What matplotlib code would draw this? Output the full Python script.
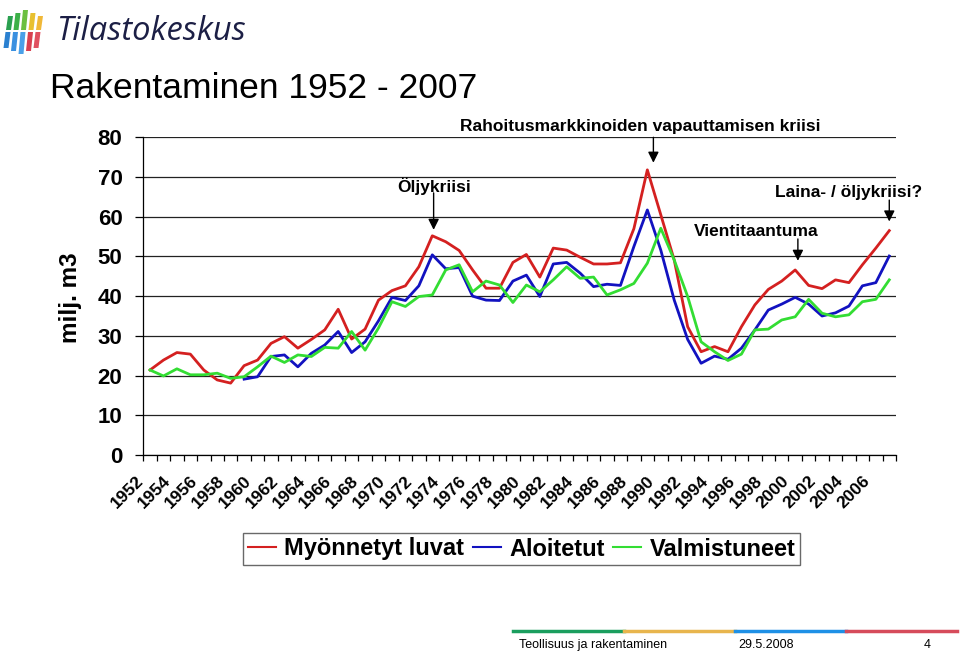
import matplotlib
matplotlib.use("Agg")
import matplotlib.pyplot as plt
import matplotlib.transforms as mtransforms
from matplotlib.patches import Polygon
import numpy as np

plt.rcParams['font.family'] = ['Liberation Sans', 'DejaVu Sans']

# data (milj. m3)
years = list(range(1952, 2008))
luvat = [21.4, 23.9, 25.8, 25.4, 21.4, 18.9, 18.1, 22.5, 23.9, 28.1,
         29.8, 26.9, 29.1, 31.5, 36.7, 29.2, 31.7, 39.0, 41.4, 42.6,
         47.4, 55.2, 53.7, 51.5, 46.6, 42.0, 42.0, 48.5, 50.5, 44.8,
         52.1, 51.6, 49.8, 48.1, 48.1, 48.4, 57.0, 71.8, 60.5, 49.1,
         32.3, 26.0, 27.3, 26.0, 32.3, 37.8, 41.7, 43.8, 46.6, 42.7,
         41.9, 44.1, 43.4, 47.9, 52.1, 56.5]
aloitetut_years = list(range(1959, 2008))
aloitetut = [19.1, 19.7, 24.8, 25.2, 22.2, 25.6, 27.7, 31.1, 25.8, 28.5,
             33.8, 39.7, 38.9, 42.6, 50.4, 46.9, 47.2, 40.0, 39.0, 38.9,
             43.8, 45.3, 39.9, 48.1, 48.5, 45.8, 42.4, 43.0, 42.7, 52.5,
             61.7, 51.6, 39.0, 29.1, 23.1, 24.9, 24.1, 26.9, 31.5, 36.5,
             38.0, 39.7, 38.0, 35.0, 35.8, 37.5, 42.6, 43.4, 50.1]
valmistuneet = [21.4, 19.9, 21.7, 20.2, 20.2, 20.6, 19.3, 19.7, 22.2, 24.9,
                23.3, 25.2, 24.8, 27.1, 26.9, 31.1, 26.4, 32.0, 38.6, 37.4,
                39.9, 40.3, 46.6, 47.9, 41.1, 43.8, 42.8, 38.4, 42.8, 41.1,
                44.1, 47.4, 44.5, 44.8, 40.3, 41.6, 43.2, 48.3, 57.1, 49.1,
                39.9, 28.5, 26.0, 23.8, 25.4, 31.5, 31.7, 34.0, 34.8, 39.2,
                35.7, 34.8, 35.3, 38.6, 39.2, 44.1]

series_names = ['Myönnetyt luvat', 'Aloitetut', 'Valmistuneet']
colors = ['#d42020', '#1212c0', '#33dd33']

fig = plt.figure(figsize=(9.6, 6.52), dpi=100)
ax = fig.add_axes([143.3 / 960, 1 - 455 / 652, (896 - 143.3) / 960, (455 - 137.3) / 652])

ax.plot(years, luvat, color=colors[0], lw=2.0, label=series_names[0])
ax.plot(aloitetut_years, aloitetut, color=colors[1], lw=2.0, label=series_names[1])
ax.plot(years, valmistuneet, color=colors[2], lw=2.0, label=series_names[2])

ax.set_xlim(1951.5, 2007.5)
ax.set_ylim(0, 80)
ax.set_yticks(range(0, 81, 10))
ax.yaxis.grid(True, color='#222222', lw=0.9)
ax.set_axisbelow(True)
for s in ['top', 'right']:
    ax.spines[s].set_visible(False)
ax.spines['left'].set_linewidth(0.9)
ax.spines['bottom'].set_linewidth(0.9)
ax.tick_params(axis='y', length=6, width=0.9, pad=9, labelsize=16)
for lab in ax.get_yticklabels():
    lab.set_fontweight('bold')

ax.set_xticks(years[::2])
ax.set_xticklabels([str(y) for y in years[::2]], rotation=45, ha='right', va='top',
                   rotation_mode='anchor', fontsize=12.5, fontweight='bold')
ax.set_xticks(np.arange(1951.5, 2008, 1), minor=True)
ax.tick_params(axis='x', which='major', length=0, pad=10)
ax.tick_params(axis='x', which='minor', length=4.5, width=0.9)
off = mtransforms.ScaledTranslation(-14 / 100, -4 / 100, fig.dpi_scale_trans)
for lab in ax.get_xticklabels():
    lab.set_transform(lab.get_transform() + off)

# annotations
arrow = dict(arrowstyle='-|>', color='black', lw=1, mutation_scale=16, shrinkA=0, shrinkB=0)
notes = [
    ('Rahoitusmarkkinoiden vapauttamisen kriisi', 1988.5, 82.6, 1989.45, 80.0, 73.6),
    ('Öljykriisi', 1973.1, 67.8, 1973.1, 66.0, 56.7),
    ('Vientitaantuma', 1997.1, 56.4, 2000.2, 54.4, 48.9),
    ('Laina- / öljykriisi?', 2004.0, 66.0, 2007.0, 64.2, 58.8),
]
for txt, tx, ty, ax_x, y0, y1 in notes:
    ax.text(tx, ty, txt, ha='center', va='center', fontsize=12.5, fontweight='bold', clip_on=False)
    ax.annotate('', xy=(ax_x, y1), xytext=(ax_x, y0), arrowprops=arrow, annotation_clip=False)

# y label and title
fig.text(70 / 960, 1 - 298 / 652, 'milj. m3', rotation=90, ha='center', va='center',
         fontsize=17.5, fontweight='bold')
fig.text(50 / 960, 1 - 89 / 652, 'Rakentaminen 1952 - 2007', ha='left', va='center', fontsize=25.5)

# legend
leg = fig.legend(loc='center', bbox_to_anchor=(521.5 / 960, 1 - 549 / 652), ncol=3,
                 prop={'size': 17, 'weight': 'bold'}, frameon=True, fancybox=False,
                 handlelength=1.2, handletextpad=0.35, columnspacing=0.35, borderpad=0.2,
                 borderaxespad=0, edgecolor='#444444')
leg.get_frame().set_linewidth(1.0)
for h in leg.get_lines():
    h.set_linewidth(1.5)

# logo
bar_cols_top = ['#2aa050', '#3cb048', '#6cbf40', '#e8c030', '#f0b838']
bar_cols_bot = ['#2a80d0', '#3a90e0', '#4aa0e8', '#d84050', '#e05060']
for i in range(5):
    x0 = 6 + i * 7.5
    top = 10 + abs(i - 2) * 3
    pts_top = [(x0, 30), (x0 + 5, 30), (x0 + 7, top), (x0 + 2, top)]
    pts_bot = [(x0 - 2.5, 54 - abs(i - 2) * 3), (x0 + 2.5, 54 - abs(i - 2) * 3), (x0 + 4.5, 32), (x0 - 0.5, 32)]
    for pts, c in [(pts_top, bar_cols_top[i]), (pts_bot, bar_cols_bot[i])]:
        fig.patches.append(Polygon([(px / 960, 1 - py / 652) for px, py in pts], closed=True,
                                   transform=fig.transFigure, facecolor=c, edgecolor='none'))
fig.text(56 / 960, 1 - 31 / 652, 'Tilastokeskus', ha='left', va='center', fontsize=23.5,
         style='italic', color='#1c1f45', family='Open Sans')

# footer
foot_cols = ['#1a9e5e', '#e8b54d', '#1e90e6', '#d64b5b']
for i, c in enumerate(foot_cols):
    fig.add_artist(plt.Line2D([(513 + i * 111) / 960, (513 + (i + 1) * 111) / 960],
                              [1 - 631 / 652, 1 - 631 / 652], color=c, lw=2.5,
                              transform=fig.transFigure))
fig.text(519 / 960, 1 - 645 / 652, 'Teollisuus ja rakentaminen', ha='left', va='center', fontsize=9)
fig.text(766 / 960, 1 - 645 / 652, '29.5.2008', ha='center', va='center', fontsize=9)
fig.text(927 / 960, 1 - 645 / 652, '4', ha='center', va='center', fontsize=9)

fig.savefig('out.png', dpi=100)
